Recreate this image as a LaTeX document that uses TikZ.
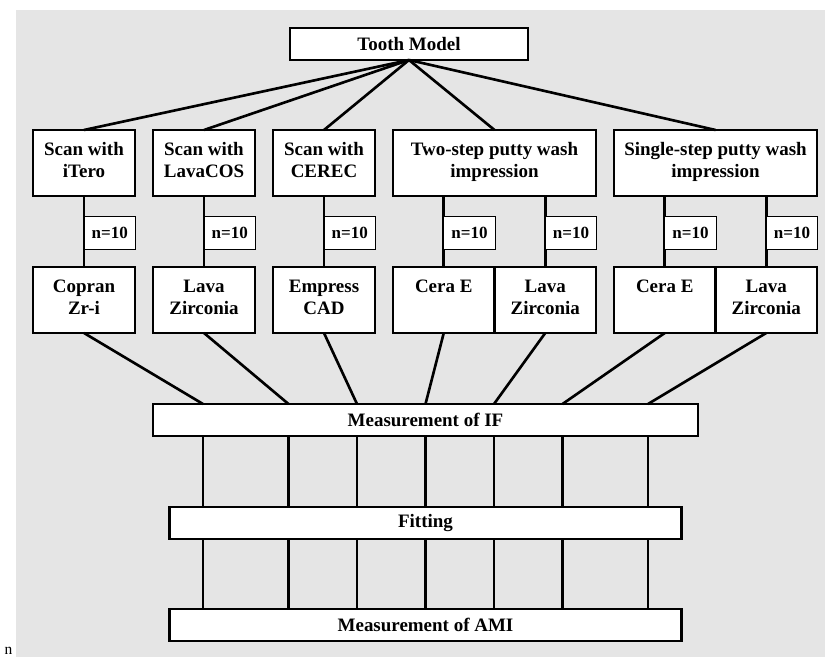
\documentclass[tikz,border=0pt]{standalone}
\usepackage{fontspec}
\setmainfont{Liberation Serif}
\usetikzlibrary{positioning}
\definecolor{bggray}{HTML}{E5E5E5}
\newcommand{\boxtext}[1]{\begin{tabular}[t]{@{}c@{}}#1\end{tabular}}
\tikzstyle{stepbox}=[rectangle,draw=black,fill=white,line width=1.4pt,
  inner sep=0pt,outer sep=0pt,minimum width=2.04cm,minimum height=1.32cm,
  text height=0.52cm,text depth=0.8cm,
  font=\fontsize{10.8}{12}\selectfont\bfseries]
\tikzstyle{barbox}=[rectangle,draw=black,fill=white,line width=1.4pt,
  inner sep=0pt,outer sep=0pt,minimum height=0.64cm,
  font=\fontsize{10.8}{12}\selectfont\bfseries]
\tikzstyle{nbox}=[rectangle,draw=black,fill=white,line width=0.8pt,
  inner sep=0pt,outer sep=0pt,minimum width=1.03cm,minimum height=0.66cm,
  font=\fontsize{9.7}{11}\selectfont\bfseries]
\tikzstyle{conn}=[line width=1.5pt,color=black]

\begin{document}
\begin{tikzpicture}[node distance=1.42cm and 0.36cm]
  \useasboundingbox (0,0) rectangle (16.5,-13.14);
  \fill[bggray] (0.32,-0.2) rectangle (16.5,-13.14);
  \node[barbox,minimum width=4.76cm] (tooth) at (8.18,-0.88) {Tooth Model};
  \node[stepbox] (itero) at (1.68,-3.26) {\boxtext{Scan with\\iTero}};
  \node[stepbox,right=of itero] (lavacos) {\boxtext{Scan with\\LavaCOS}};
  \node[stepbox,right=of lavacos] (cerec) {\boxtext{Scan with\\CEREC}};
  \node[stepbox,minimum width=4.06cm,right=of cerec] (twostep) {\boxtext{Two-step putty wash\\impression}};
  \node[stepbox,minimum width=4.06cm,right=of twostep] (onestep) {\boxtext{Single-step putty wash\\impression}};
  \node[stepbox,below=of itero] (copran) {\boxtext{Copran\\Zr-i}};
  \node[stepbox,below=of lavacos] (lavaz) {\boxtext{Lava\\Zirconia}};
  \node[stepbox,below=of cerec] (empress) {\boxtext{Empress\\CAD}};
  \node[stepbox,minimum width=2.03cm,below=of twostep.south west,anchor=north west] (ceraA) {\boxtext{Cera E}};
  \node[stepbox,minimum width=2.03cm,right=0pt of ceraA] (lavaA) {\boxtext{Lava\\Zirconia}};
  \node[stepbox,minimum width=2.03cm,below=of onestep.south west,anchor=north west] (ceraB) {\boxtext{Cera E}};
  \node[stepbox,minimum width=2.03cm,right=0pt of ceraB] (lavaB) {\boxtext{Lava\\Zirconia}};
  \node[barbox,minimum width=10.9cm] (meas) at (8.51,-8.4) {Measurement of IF};
  \node[barbox,minimum width=10.24cm,below=of meas] (fit) {Fitting};
  \node[barbox,minimum width=10.24cm,below=1.4cm of fit] (ami) {Measurement of AMI};
  % tooth model to the five groups
  \draw[conn] (tooth.south) -- (itero.north);
  \draw[conn] (tooth.south) -- (lavacos.north);
  \draw[conn] (tooth.south) -- (cerec.north);
  \draw[conn] (tooth.south) -- (twostep.north);
  \draw[conn] (tooth.south) -- (onestep.north);
  % groups to crowns
  \draw[conn] (itero) -- (copran);
  \draw[conn] (lavacos) -- (lavaz);
  \draw[conn] (cerec) -- (empress);
  \draw[conn] (ceraA.north |- twostep.south) -- (ceraA.north);
  \draw[conn] (lavaA.north |- twostep.south) -- (lavaA.north);
  \draw[conn] (ceraB.north |- onestep.south) -- (ceraB.north);
  \draw[conn] (lavaB.north |- onestep.south) -- (lavaB.north);
  % crowns to measurement
  \draw[conn] (copran.south) -- ([xshift=-4.45cm]meas.north);
  \draw[conn] (lavaz.south) -- ([xshift=-2.74cm]meas.north);
  \draw[conn] (empress.south) -- ([xshift=-1.37cm]meas.north);
  \draw[conn] (ceraA.south) -- (meas.north);
  \draw[conn] (lavaA.south) -- ([xshift=1.37cm]meas.north);
  \draw[conn] (ceraB.south) -- ([xshift=2.74cm]meas.north);
  \draw[conn] (lavaB.south) -- ([xshift=4.45cm]meas.north);
  \foreach \dx in {-4.45,-2.74,-1.37,0,1.37,2.74,4.45} {
    \draw[conn] ([xshift=\dx cm]meas.south) -- ([xshift=\dx cm]fit.north);
    \draw[conn] ([xshift=\dx cm]fit.south) -- ([xshift=\dx cm]ami.north);
  }
  % sample sizes
  \node[nbox,above=0.35cm of copran.north,anchor=south west] (n1) {n=10};
  \node[nbox,above=0.35cm of lavaz.north,anchor=south west] (n2) {n=10};
  \node[nbox,above=0.35cm of empress.north,anchor=south west] (n3) {n=10};
  \node[nbox,above=0.35cm of ceraA.north,anchor=south west] (n4) {n=10};
  \node[nbox,above=0.35cm of lavaA.north,anchor=south west] (n5) {n=10};
  \node[nbox,above=0.35cm of ceraB.north,anchor=south west] (n6) {n=10};
  \node[nbox,above=0.35cm of lavaB.north,anchor=south west] (n7) {n=10};
  \node[font=\fontsize{8.8}{10}\selectfont,anchor=base,inner sep=0pt] (stray) at (0.17,-13.1) {n};
\end{tikzpicture}
\end{document}
